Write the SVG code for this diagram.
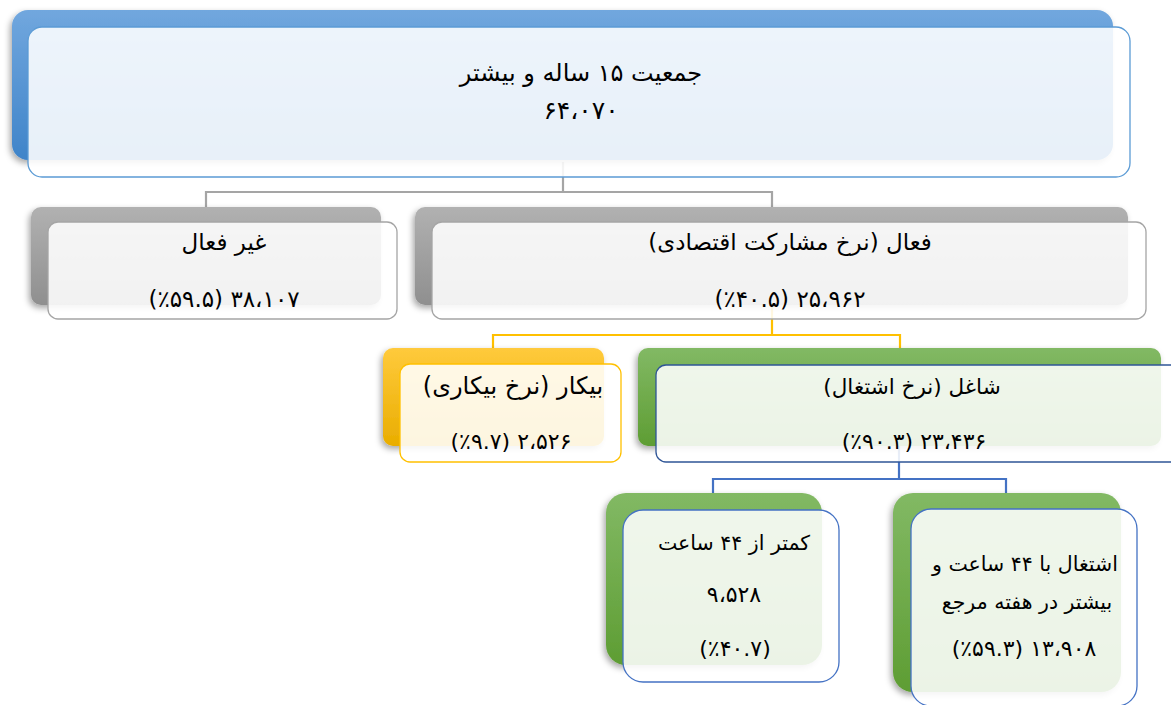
<svg xmlns="http://www.w3.org/2000/svg" width="1171" height="705" viewBox="0 0 1171 705">
<defs>
<linearGradient id="gBlue" x1="0" y1="0" x2="0" y2="1"><stop offset="0" stop-color="#71A7DE"/><stop offset="1" stop-color="#3F84C9"/></linearGradient>
<linearGradient id="gGray" x1="0" y1="0" x2="0" y2="1"><stop offset="0" stop-color="#B1B1B1"/><stop offset="1" stop-color="#8F8F8F"/></linearGradient>
<linearGradient id="gYellow" x1="0" y1="0" x2="0" y2="1"><stop offset="0" stop-color="#FFCA3C"/><stop offset="1" stop-color="#E9AD00"/></linearGradient>
<linearGradient id="gGreen" x1="0" y1="0" x2="0" y2="1"><stop offset="0" stop-color="#82B964"/><stop offset="1" stop-color="#5E9D33"/></linearGradient>
<filter id="sh" x="-10%" y="-10%" width="120%" height="130%"><feDropShadow dx="-2" dy="3" stdDeviation="3" flood-color="#000" flood-opacity="0.35"/></filter>
</defs>
<style>
.front{fill:#fff;fill-opacity:0.88;stroke-width:1.3}
.t{font-family:"DejaVu Sans",sans-serif;font-size:22px;fill:#000;text-anchor:middle;direction:rtl}
.n{letter-spacing:1.5px}
.c{fill:none;stroke-width:2.2}
</style>
<g id="connectors">
<polyline class="c" stroke="#A5A5A5" points="563,162 563,192 206,192 206,208"/>
<polyline class="c" stroke="#A5A5A5" points="563,192 772,192 772,208"/>
<polyline class="c" stroke="#FFC000" points="772,305 772,335 493,335 493,349"/>
<polyline class="c" stroke="#FFC000" points="772,335 900,335 900,349"/>
<polyline class="c" stroke="#4472C4" points="899,446 899,479 713,479 713,494"/>
<polyline class="c" stroke="#4472C4" points="899,479 1006,479 1006,494"/>
</g>
<g id="node-total">
<rect x="12" y="10" width="1101" height="150" rx="16" fill="url(#gBlue)" filter="url(#sh)"/>
<rect class="front" x="28" y="27" width="1102" height="150" rx="14" stroke="#5B9BD5"/>
<text class="t" x="581" y="81" style="font-size:24px">جمعیت ۱۵ ساله و بیشتر</text>
<text class="t n" x="581" y="119" style="font-size:25px;letter-spacing:3px">۶۴،۰۷۰</text>
</g>
<g id="node-inactive">
<rect x="31" y="207" width="350" height="98" rx="10" fill="url(#gGray)" filter="url(#sh)"/>
<rect class="front" x="48" y="222" width="349" height="97" rx="10" stroke="#A5A5A5"/>
<text class="t" x="224" y="250" style="font-size:23px">غیر فعال</text>
<text class="t n" x="224" y="307" style="font-size:23px">۳۸،۱۰۷ (٪۵۹.۵)</text>
</g>
<g id="node-active">
<rect x="415" y="207" width="713" height="98" rx="10" fill="url(#gGray)" filter="url(#sh)"/>
<rect class="front" x="432" y="222" width="714" height="97" rx="10" stroke="#A5A5A5"/>
<text class="t" x="790" y="250" style="font-size:23px">فعال (نرخ مشارکت اقتصادی)</text>
<text class="t n" x="790" y="307" style="font-size:23px">۲۵،۹۶۲ (٪۴۰.۵)</text>
</g>
<g id="node-unemployed">
<rect x="383" y="348" width="221" height="98" rx="10" fill="url(#gYellow)" filter="url(#sh)"/>
<rect class="front" x="400" y="364" width="221" height="98" rx="10" stroke="#FFC000"/>
<text class="t" x="513" y="394" style="font-size:24px">بیکار (نرخ بیکاری)</text>
<text class="t n" x="511" y="449" style="font-size:22px">۲،۵۲۶  (٪۹.۷)</text>
</g>
<g id="node-employed">
<rect x="638" y="348" width="523" height="98" rx="10" fill="url(#gGreen)" filter="url(#sh)"/>
<rect class="front" x="656" y="365" width="530" height="97" rx="10" stroke="#2F5597"/>
<text class="t" x="912" y="394" style="font-size:21.5px">شاغل (نرخ اشتغال)</text>
<text class="t n" x="914" y="449" style="font-size:22px">۲۳،۴۳۶ (٪۹۰.۳)</text>
</g>
<g id="node-under44">
<rect x="606" y="493" width="216" height="172" rx="20" fill="url(#gGreen)" filter="url(#sh)"/>
<rect class="front" x="623" y="510" width="216" height="172" rx="20" stroke="#4472C4"/>
<text class="t" x="734" y="550" style="font-size:20.5px">کمتر از ۴۴ ساعت</text>
<text class="t n" x="734" y="602">۹،۵۲۸</text>
<text class="t n" x="735" y="656">(٪۴۰.۷)</text>
</g>
<g id="node-over44">
<rect x="893" y="493" width="228" height="199" rx="20" fill="url(#gGreen)" filter="url(#sh)"/>
<rect class="front" x="911" y="509" width="226" height="197" rx="20" stroke="#4472C4"/>
<text class="t" x="1025" y="571" style="font-size:20.5px">اشتغال با ۴۴ ساعت و</text>
<text class="t" x="1027" y="609" style="font-size:20.5px">بیشتر در هفته مرجع</text>
<text class="t n" x="1024" y="656">۱۳،۹۰۸ (٪۵۹.۳)</text>
</g>
</svg>
